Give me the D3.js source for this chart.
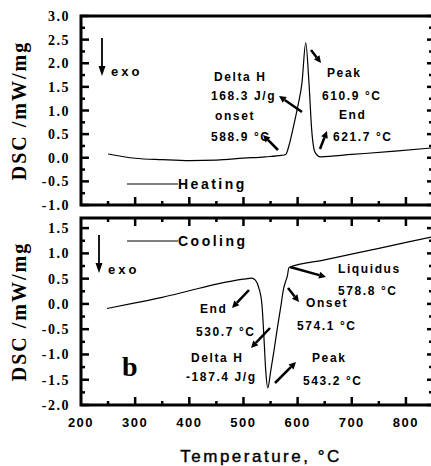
<!DOCTYPE html>
<html>
<head>
<meta charset="utf-8">
<script src="https://cdn.jsdelivr.net/npm/d3@7"></script>
<style>
  body { margin: 0; background: #fff; }
  text { fill: #000; }
</style>
</head>
<body>
<div id="chart"></div>
<script>
// data
var heatT = [250, 300, 350, 400, 450, 500, 540, 570, 578, 585, 591, 600, 608, 615, 621, 626, 632, 642, 700, 780, 850];
var heatV = [0.08, -0.01, -0.04, -0.06, -0.05, -0.01, 0.02, 0.05, 0.07, 0.3, 0.59, 1.07, 1.58, 2.43, 1.58, 0.59, 0.12, 0.02, 0.07, 0.14, 0.21];

var coolT = [248, 300, 350, 400, 450, 500, 515, 522, 528, 534, 538, 541, 545, 550, 556, 563, 569, 574, 578, 581, 584, 650, 750, 850];
var coolV = [-0.09, 0.02, 0.13, 0.26, 0.39, 0.49, 0.51, 0.47, 0.33, 0.0, -0.7, -1.3, -1.66, -1.35, -0.95, -0.45, -0.05, 0.3, 0.45, 0.55, 0.72, 0.87, 1.10, 1.33];

var xMajor = [200, 300, 400, 500, 600, 700, 800];
var xMinor = [250, 350, 450, 550, 650, 750, 850];
var xLabels = ['200', '300', '400', '500', '600', '700', '800'];

var topMajor = [-1, -0.5, 0, 0.5, 1, 1.5, 2, 2.5, 3];
var topMinor = [-0.75, -0.25, 0.25, 0.75, 1.25, 1.75, 2.25, 2.75];
var topLabels = ['-1.0', '-0.5', '0.0', '0.5', '1.0', '1.5', '2.0', '2.5', '3.0'];

var botMajor = [-2, -1.5, -1, -0.5, 0, 0.5, 1, 1.5];
var botMinor = [-1.75, -1.25, -0.75, -0.25, 0.25, 0.75, 1.25];
var botLabels = ['-2.0', '-1.5', '-1.0', '-0.5', '0.0', '0.5', '1.0', '1.5'];

var width = 431, height = 466;
var left = 81, right = 433;

var svg = d3.select('#chart').append('svg')
    .attr('width', width)
    .attr('height', height);

var x = d3.scaleLinear().domain([200, 850]).range([left, right]);
var yTop = d3.scaleLinear().domain([-1, 3]).range([205, 16]);
var yBot = d3.scaleLinear().domain([-2, 1.7]).range([405, 218]);

var sans = 'Liberation Sans, Arial, sans-serif';
var serif = 'Liberation Serif, Times New Roman, serif';

function tickLines(g, vals, fn) {
    g.selectAll(null).data(vals).enter().append('line')
        .attr('stroke', '#000')
        .attr('stroke-width', 2.5)
        .each(function(d) { var c = fn(d); d3.select(this).attr('x1', c[0]).attr('y1', c[1]).attr('x2', c[2]).attr('y2', c[3]); });
}

function panel(y, major, minor, labels, id, showTopTicks) {
    var g = svg.append('g');
    var y0 = y.range()[0], y1 = y.range()[1];

    g.append('clipPath').attr('id', id)
        .append('rect').attr('x', left).attr('y', y1).attr('width', right - left).attr('height', y0 - y1);

    // left ticks
    tickLines(g, major, d => [left, y(d), left + 8, y(d)]);
    tickLines(g, minor, d => [left, y(d), left + 4, y(d)]);
    // right ticks
    tickLines(g, major, d => [right, y(d), right - 6, y(d)]);
    tickLines(g, minor, d => [right, y(d), right - 4, y(d)]);
    // bottom ticks (pointing up)
    tickLines(g, xMajor.slice(1), d => [x(d), y0, x(d), y0 - 8]);
    tickLines(g, xMinor, d => [x(d), y0, x(d), y0 - 4]);
    if (showTopTicks) {
        tickLines(g, xMajor.slice(1), d => [x(d), y1, x(d), y1 + 8]);
        tickLines(g, xMinor, d => [x(d), y1, x(d), y1 + 4]);
    }

    g.append('rect')
        .attr('x', left).attr('y', y1)
        .attr('width', right - left).attr('height', y0 - y1)
        .attr('fill', 'none').attr('stroke', '#000').attr('stroke-width', 3);

    g.selectAll('.ylab').data(major).enter().append('text')
        .attr('x', 70)
        .attr('y', d => y(d) + 5)
        .attr('text-anchor', 'end')
        .style('font-family', serif)
        .style('font-weight', '700')
        .style('font-size', '14px')
        .style('letter-spacing', '1.5px')
        .text((d, i) => labels[i]);

    g.append('text')
        .attr('transform', 'translate(26,' + ((y0 + y1) / 2) + ') rotate(-90)')
        .attr('text-anchor', 'middle')
        .style('font-family', serif)
        .style('font-weight', '700')
        .style('font-size', '20px')
        .style('letter-spacing', '2px')
        .text('DSC /mW/mg');
    return g;
}

var gTop = panel(yTop, topMajor, topMinor, topLabels, 'clipTop', false);
var gBot = panel(yBot, botMajor, botMinor, botLabels, 'clipBot', true);

// curves
var lineTop = d3.line().x(d => x(d[0])).y(d => yTop(d[1])).curve(d3.curveMonotoneX);
var lineBot = d3.line().x(d => x(d[0])).y(d => yBot(d[1])).curve(d3.curveMonotoneX);

gTop.append('path')
    .datum(d3.zip(heatT, heatV))
    .attr('clip-path', 'url(#clipTop)')
    .attr('d', lineTop)
    .attr('fill', 'none').attr('stroke', '#000').attr('stroke-width', 1.2);

gBot.append('path')
    .datum(d3.zip(coolT, coolV))
    .attr('clip-path', 'url(#clipBot)')
    .attr('d', lineBot)
    .attr('fill', 'none').attr('stroke', '#000').attr('stroke-width', 1.2);

// x axis labels
svg.selectAll('.xlab').data(xMajor).enter().append('text')
    .attr('x', d => x(d))
    .attr('y', 427)
    .attr('text-anchor', 'middle')
    .style('font-family', sans)
    .style('font-weight', '700')
    .style('font-size', '13px')
    .style('letter-spacing', '1.5px')
    .text((d, i) => xLabels[i]);

svg.append('text')
    .attr('x', 261).attr('y', 462)
    .attr('text-anchor', 'middle')
    .style('font-family', sans)
    .style('font-size', '17px')
    .style('letter-spacing', '2.5px')
    .style('stroke', '#000')
    .style('stroke-width', '0.4px')
    .text('Temperature, °C');

// annotations
function arrow(x1, y1, x2, y2, w, hl, hw) {
    var a = Math.atan2(y2 - y1, x2 - x1);
    var bx = x2 - hl * Math.cos(a), by = y2 - hl * Math.sin(a);
    svg.append('line')
        .attr('x1', x1).attr('y1', y1).attr('x2', bx).attr('y2', by)
        .attr('stroke', '#000').attr('stroke-width', w);
    var px = -Math.sin(a) * hw / 2, py = Math.cos(a) * hw / 2;
    svg.append('path')
        .attr('d', 'M' + x2 + ',' + y2 + 'L' + (bx + px) + ',' + (by + py) + 'L' + (bx - px) + ',' + (by - py) + 'Z')
        .attr('fill', '#000');
}

function label(t, xx, yy, size, ls) {
    svg.append('text')
        .attr('x', xx).attr('y', yy)
        .style('font-family', sans)
        .style('font-weight', '700')
        .style('font-size', size + 'px')
        .style('letter-spacing', ls + 'px')
        .text(t);
}

var notes = [
    ['Delta H', 214, 81], ['168.3 J/g', 211, 100], ['onset', 215, 120], ['588.9 °C', 211, 141],
    ['Peak', 327, 77], ['610.9 °C', 322, 100], ['End', 339, 119], ['621.7 °C', 333, 141],
    ['End', 200, 313], ['530.7 °C', 196, 336], ['Delta H', 191, 362], ['-187.4 J/g', 186, 381],
    ['Liquidus', 338, 273], ['578.8 °C', 338, 295], ['Onset', 306, 307], ['574.1 °C', 297, 330],
    ['Peak', 312, 362], ['543.2 °C', 303, 385]
];
notes.forEach(n => label(n[0], n[1], n[2], 12, 1.6));

var arrows = [
    [311, 50, 321, 63], [302, 112, 279, 96], [278, 150, 263, 135], [320, 149, 327, 131],
    [290, 267, 326, 277], [288, 288, 299, 302], [249, 290, 232, 308],
    [270, 328, 251, 348], [275, 383, 296, 362]
];
arrows.forEach(a => arrow(a[0], a[1], a[2], a[3], 2.5, 7, 7));

// exo arrows
arrow(102, 38, 102, 76, 1.8, 10, 7);
label('exo', 111, 76, 13, 3);
arrow(99, 235, 99, 273, 1.8, 10, 7);
label('exo', 108, 274, 13, 3);

// heating / cooling legends
svg.append('line').attr('x1', 127).attr('x2', 178).attr('y1', 184).attr('y2', 184).attr('stroke', '#000').attr('stroke-width', 1.2);
label('Heating', 178, 189, 14, 2.5);
svg.append('line').attr('x1', 127).attr('x2', 178).attr('y1', 241).attr('y2', 241).attr('stroke', '#000').attr('stroke-width', 1.2);
label('Cooling', 178, 246, 14, 2.5);

svg.append('text')
    .attr('x', 122).attr('y', 376)
    .style('font-family', serif)
    .style('font-weight', '700')
    .style('font-size', '28px')
    .text('b');
</script>
</body>
</html>
